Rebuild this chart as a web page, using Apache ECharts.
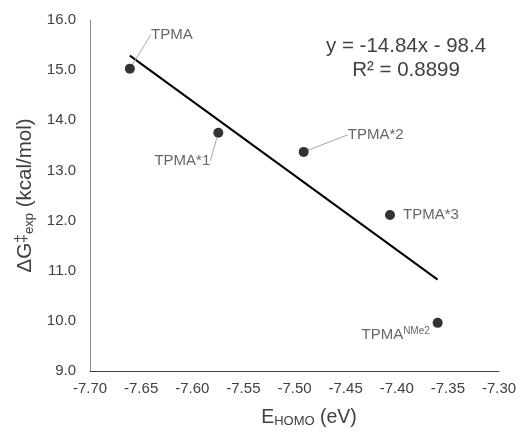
<!DOCTYPE html>
<html>
<head>
<meta charset="utf-8">
<script src="https://cdn.jsdelivr.net/npm/echarts@6/dist/echarts.min.js"></script>
<style>
  html, body { margin: 0; padding: 0; background: #fff; }
  #chart { width: 521px; height: 433px; }
</style>
</head>
<body>
<div id="chart"></div>
<script>
// Ligand names, HOMO energies (eV) and experimental barriers (kcal/mol)
const ligands = ['TPMA', 'TPMA*1', 'TPMA*2', 'TPMA*3', 'TPMA{sup|NMe2}'];
const eHomo = [-7.661, -7.5745, -7.491, -7.4066, -7.360];
const dG = [15.03, 13.75, 13.37, 12.11, 9.96];

// Linear fit reported on the chart
const fitSlope = [-14.84];
const fitIntercept = [-98.4];
const fitR2 = ['0.8899'];

// Axis ranges
const xTicks = [-7.70, -7.30, 0.05];
const yTicks = [9, 16, 1];

// Label offsets (px) from each point, and whether a leader line is drawn
const labelOffsets = [[42, -34], [-36, 28], [72, -17], [41, 0], [-42, 12]];
const leaderShown = [true, true, true, false, false];

const textColor = '#404040';
const font = 'Liberation Sans, Arial, sans-serif';

const xMinData = Math.min.apply(null, eHomo);
const xMaxData = Math.max.apply(null, eHomo);
const fitLine = [xMinData, xMaxData].map(x => [x, fitSlope[0] * x + fitIntercept[0]]);

const points = eHomo.map((x, i) => ({
  value: [x, dG[i]],
  name: ligands[i],
  labelLine: { show: leaderShown[i] }
}));

const chart = echarts.init(document.getElementById('chart'), null, { renderer: 'canvas' });
chart.setOption({
  animation: false,
  backgroundColor: '#fff',
  grid: { left: 90, right: 22, top: 20, bottom: 60 },
  xAxis: {
    type: 'value',
    min: xTicks[0], max: xTicks[1], interval: xTicks[2],
    name: 'E{sub|HOMO} (eV)',
    nameLocation: 'middle',
    nameGap: 36,
    nameTextStyle: {
      color: textColor, fontFamily: font, fontSize: 19.5,
      padding: [0, 0, 0, 29],
      rich: {
        sub: { fontSize: 13, color: textColor, fontFamily: font, padding: [8, 0, 0, 0] }
      }
    },
    axisLine: { onZero: false, lineStyle: { color: '#404040', width: 1 } },
    axisTick: { show: false },
    splitLine: { show: false },
    axisLabel: {
      color: textColor, fontFamily: font, fontSize: 15, margin: 10,
      formatter: v => v.toFixed(2)
    }
  },
  yAxis: {
    type: 'value',
    min: yTicks[0], max: yTicks[1], interval: yTicks[2],
    name: 'ΔG{sup|‡}{sub|exp} (kcal/mol)',
    nameLocation: 'middle',
    nameGap: 52,
    nameTextStyle: {
      color: textColor, fontFamily: font, fontSize: 20.5,
      rich: {
        sup: { fontSize: 16, color: textColor, fontFamily: font, padding: [0, 0, 6, 0] },
        sub: { fontSize: 13, color: textColor, fontFamily: font, padding: [9, 0, 0, 0] }
      }
    },
    axisLine: { show: true, onZero: false, lineStyle: { color: '#8c8c8c', width: 1 } },
    axisTick: { show: false },
    splitLine: { show: false },
    axisLabel: {
      color: textColor, fontFamily: font, fontSize: 15, margin: 14,
      formatter: v => v.toFixed(1)
    }
  },
  graphic: [
    {
      type: 'text', x: 406, y: 36,
      style: {
        text: 'y = ' + fitSlope[0].toFixed(2) + 'x - ' + Math.abs(fitIntercept[0]).toFixed(1),
        fill: textColor, font: '20.5px ' + font, align: 'center'
      }
    },
    {
      type: 'text', x: 406, y: 60,
      style: {
        text: 'R² = ' + fitR2[0],
        fill: textColor, font: '20.5px ' + font, align: 'center'
      }
    }
  ],
  series: [
    {
      type: 'line',
      data: fitLine,
      symbol: 'none',
      lineStyle: { color: '#000', width: 2 },
      z: 2,
      silent: true
    },
    {
      type: 'scatter',
      data: points,
      symbol: 'circle',
      symbolSize: 10,
      itemStyle: { color: '#000' },
      z: 3,
      label: {
        show: true,
        position: 'inside',
        formatter: p => p.name,
        color: textColor,
        fontFamily: font,
        fontSize: 15,
        rich: {
          sup: { fontSize: 10, color: textColor, fontFamily: font, padding: [0, 0, 8, 0] }
        }
      },
      labelLine: {
        show: true,
        lineStyle: { color: '#a6a6a6', width: 1 }
      },
      labelLayout: p => ({
        dx: labelOffsets[p.dataIndex][0],
        dy: labelOffsets[p.dataIndex][1]
      })
    }
  ]
});
</script>
</body>
</html>
